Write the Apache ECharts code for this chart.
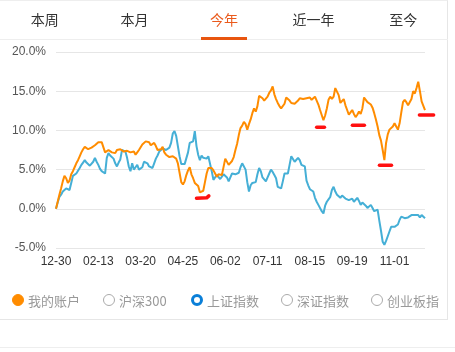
<!DOCTYPE html>
<html>
<head>
<meta charset="utf-8">
<script src="https://cdn.jsdelivr.net/npm/echarts@6/dist/echarts.min.js"></script>
<style>
body{margin:0;width:455px;height:352px;background:#fff;overflow:hidden;position:relative;font-family:"Noto Sans CJK SC",sans-serif}
#chart{position:absolute;left:0;top:0;width:455px;height:352px}
.card{position:absolute;left:0;top:0;width:447px;height:318px;border-top:1px solid #eee;border-right:1px solid #e6e6e6;border-bottom:1px solid #e6e6e6;pointer-events:none}
.tabs{position:absolute;left:0;top:0;width:448px;height:39px;border-bottom:1px solid #eee;display:flex}
.tab{flex:1;text-align:center;line-height:39px;font-size:14px;color:#333;position:relative}
.tab.on{color:#ea5a1c}
.tab.on:after{content:'';position:absolute;left:22px;right:22px;bottom:-1px;height:3px;background:#e8550f}
.lg{position:absolute;top:293px;height:14px;display:flex;align-items:center;font-size:13px;color:#999}
.dot{width:12px;height:12px;box-sizing:border-box;border-radius:50%;border:1px solid #aaa;margin-right:4px}
.dot.fill{background:#ff8c00;border-color:#ff8c00}
.dot.ring{border:3px solid #0a7fd8}
.foot{position:absolute;left:0;top:347px;width:455px;border-top:1px solid #eee}
</style>
</head>
<body>
<div id="chart"></div>
<div class="card"></div>
<div class="tabs">
  <div class="tab">本周</div>
  <div class="tab">本月</div>
  <div class="tab on">今年</div>
  <div class="tab">近一年</div>
  <div class="tab">至今</div>
</div>
<div class="lg" style="left:12px"><div class="dot fill"></div>我的账户</div>
<div class="lg" style="left:103px"><div class="dot"></div>沪深300</div>
<div class="lg" style="left:191px"><div class="dot ring"></div>上证指数</div>
<div class="lg" style="left:281px"><div class="dot"></div>深证指数</div>
<div class="lg" style="left:371px"><div class="dot"></div>创业板指</div>
<div class="foot"></div>
<script>
// trading days (2022-12-30 then 2023 by month)
const tradingDays = {
  '12': [30],
  '01': [3,4,5,6,9,10,11,12,13,16,17,18,19,20,30,31],
  '02': [1,2,3,6,7,8,9,10,13,14,15,16,17,20,21,22,23,24,27,28],
  '03': [1,2,3,6,7,8,9,10,13,14,15,16,17,20,21,22,23,24,27,28,29,30,31],
  '04': [3,4,6,7,10,11,12,13,14,17,18,19,20,21,24,25,26,27,28],
  '05': [4,5,8,9,10,11,12,15,16,17,18,19,22,23,24,25,26,29,30,31],
  '06': [1,2,5,6,7,8,9,12,13,14,15,16,19,20,21,26,27,28,29,30],
  '07': [3,4,5,6,7,10,11,12,13,14,17,18,19,20,21,24,25,26,27,28,31],
  '08': [1,2,3,4,7,8,9,10,11,14,15,16,17,18,21,22,23,24,25,28,29,30,31],
  '09': [1,4,5,6,7,8,11,12,13,14,15,18,19,20,21,22,25,26,27,28],
  '10': [9,10,11,12,13,16,17,18,19,20,23,24,25,26,27,30,31],
  '11': [1,2,3,6,7,8,9,10,13,14,15,16,17,20,21,22,23,24,27]
}
const monthOrder = ['12','01','02','03','04','05','06','07','08','09','10','11']

// 我的账户 (%)
const myAccount = [
  0.0,0.9,1.8,2.6,3.5,4.2,3.9,3.3,3.6,4.4,
  4.8,5.3,5.8,6.2,6.7,7.2,7.6,7.9,7.8,7.6,
  7.4,7.8,7.9,8.1,8.2,8.5,8.6,8.5,8.3,7.2,
  7.0,7.5,7.4,7.2,7.3,7.1,7.5,7.4,7.6,7.8,
  7.3,7.1,7.4,7.6,7.2,7.0,7.3,6.9,7.2,7.5,
  7.7,8.2,8.4,8.6,8.8,8.5,8.1,8.3,8.4,8.0,
  7.5,7.7,7.6,7.9,7.2,6.9,6.8,6.6,6.4,6.7,
  6.9,6.4,5.8,4.6,3.4,3.1,3.5,4.3,4.9,5.3,
  4.4,3.9,3.3,3.5,2.9,2.1,2.0,2.3,3.4,4.5,
  5.2,5.1,5.2,4.9,4.5,4.1,4.4,4.6,4.3,4.1,
  6.4,6.3,5.6,5.8,6.1,6.6,7.5,8.3,9.4,10.3,
  10.6,11.1,10.8,10.1,10.8,11.4,12.2,12.8,12.4,13.1,
  14.4,14.5,14.1,13.8,13.7,14.3,14.8,15.1,15.6,14.6,
  14.0,13.5,13.1,12.8,12.9,13.4,14.2,14.3,13.8,13.5,
  13.6,13.4,13.5,13.8,14.1,13.9,14.0,13.8,14.1,14.3,
  14.2,13.9,14.0,14.3,13.8,13.3,12.6,12.4,11.3,11.9,
  12.8,13.9,14.3,14.0,14.3,15.4,15.6,14.5,13.5,13.7,
  14.0,13.2,12.6,12.0,12.3,12.6,12.1,11.7,12.0,12.4,
  12.1,12.8,14.2,14.3,13.6,13.5,13.3,12.9,12.2,11.4,
  10.5,9.4,8.7,7.5,6.2,8.4,9.5,10.1,10.2,10.5,
  10.9,10.5,10.1,10.9,12.3,13.6,13.9,13.6,13.2,13.1,
  14.0,15.0,14.7,15.4,16.2,15.0,13.7,13.8,12.6
]

// 上证指数 (%)
const shIndex = [
  0.0,0.8,1.5,1.8,2.2,2.4,2.6,2.5,2.4,3.3,
  4.2,4.4,4.5,4.6,5.2,5.6,5.9,6.2,5.9,5.8,
  5.5,5.4,6.0,6.5,6.0,5.6,5.1,4.8,4.6,4.5,
  6.5,7.1,6.8,6.6,6.4,5.8,5.4,5.9,6.3,7.5,
  7.4,7.3,6.5,5.4,4.8,5.8,5.0,5.3,5.6,5.0,
  4.8,5.3,6.0,6.2,5.8,5.4,5.3,5.2,5.8,6.4,
  6.8,7.3,7.5,7.7,7.6,7.5,7.6,7.8,8.4,9.6,
  9.9,9.3,8.0,6.7,5.7,5.6,5.7,5.8,7.2,8.4,
  8.2,8.6,9.9,8.0,6.9,6.2,6.8,6.5,6.6,6.4,
  6.7,6.5,4.8,3.7,4.0,4.3,4.1,3.8,3.7,4.4,
  4.5,4.0,3.5,4.0,4.5,4.6,4.4,4.3,4.6,5.3,
  5.8,5.6,5.0,3.4,2.2,3.0,3.3,3.1,3.4,4.4,
  5.2,4.8,4.0,3.8,3.5,4.0,4.5,5.0,4.7,4.3,
  3.9,2.8,2.6,2.6,3.5,4.5,4.6,4.5,5.6,6.7,
  6.5,6.0,6.2,6.5,6.2,5.6,5.5,5.4,3.6,3.0,
  2.5,2.4,2.2,1.4,0.9,0.5,0.3,-0.3,-0.6,0.4,
  0.9,1.2,1.5,2.4,2.8,2.2,1.8,1.6,1.4,1.7,
  1.6,1.3,1.5,1.1,1.2,1.3,0.9,0.7,1.4,1.0,
  0.5,0.8,0.7,0.4,0.1,0.3,0.5,0.1,-0.3,-0.2,
  -0.1,-1.5,-2.8,-4.2,-4.6,-4.1,-3.5,-2.9,-2.3,-2.2,
  -2.3,-2.2,-2.0,-1.4,-1.0,-1.1,-1.2,-1.0,-1.1,-0.9,
  -0.8,-1.0,-0.8,-0.6,-0.8,-1.1,-0.8,-1.0,-1.2
]

// red hand-drawn marks: [dayIndex, value] points
const redMarks = [
  [[83, 1.35], [89, 1.4], [90.3, 1.65]],
  [[154, 10.4], [158.6, 10.4]],
  [[175.1, 10.65], [182.2, 10.65]],
  [[191.1, 5.55], [198.2, 5.55]],
  [[214.7, 11.95], [223.1, 11.95]]
]

const yTicks = [-5, 0, 5, 10, 15, 20]

const dates = []
monthOrder.forEach(m => {
  tradingDays[m].forEach(d => dates.push(m + '-' + (d < 10 ? '0' + d : d)))
})

const myChart = echarts.init(document.getElementById('chart'))
const numFont = 'Liberation Sans'

myChart.setOption({
  animation: false,
  backgroundColor: 'transparent',
  grid: { left: 56, right: 30, top: 52, bottom: 104 },
  xAxis: [
    {
      type: 'category',
      data: dates,
      boundaryGap: false,
      axisLine: { show: false },
      axisTick: { show: false },
      axisLabel: { interval: 24, margin: 8, color: '#333', fontSize: 12, fontFamily: numFont },
      splitLine: { show: false }
    },
    { type: 'value', min: 0, max: dates.length - 1, show: false }
  ],
  yAxis: {
    type: 'value',
    min: yTicks[0],
    max: yTicks[yTicks.length - 1],
    interval: 5,
    axisLine: { show: false },
    axisTick: { show: false },
    axisLabel: {
      margin: 10, color: '#555', fontSize: 12, fontFamily: numFont,
      formatter: v => v.toFixed(1) + '%'
    },
    splitLine: { lineStyle: { color: '#e6e6e6', width: 1 } }
  },
  series: [
    {
      name: '上证指数', type: 'line', data: shIndex, showSymbol: false,
      lineStyle: { color: '#45afd6', width: 2 }, itemStyle: { color: '#45afd6' }
    },
    {
      name: '我的账户', type: 'line', data: myAccount, showSymbol: false,
      lineStyle: { color: '#ff8c00', width: 2 }, itemStyle: { color: '#ff8c00' }
    },
    {
      type: 'lines', coordinateSystem: 'cartesian2d', xAxisIndex: 1, yAxisIndex: 0,
      polyline: true, clip: false, silent: true,
      lineStyle: { color: '#ff1010', width: 3.5, opacity: 1, cap: 'round', join: 'round' },
      data: redMarks.map(c => ({ coords: c }))
    }
  ]
})
</script>
</body>
</html>
